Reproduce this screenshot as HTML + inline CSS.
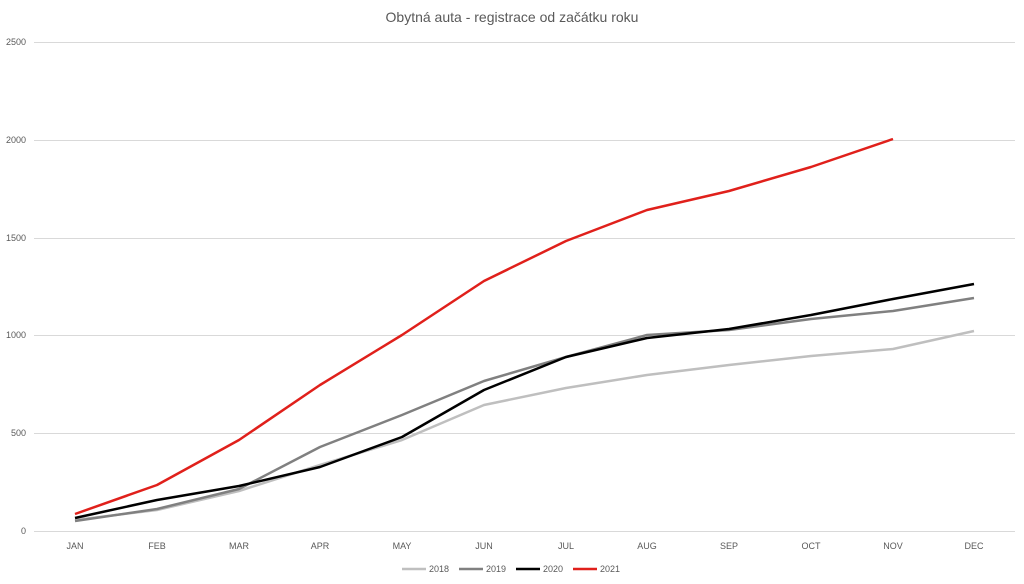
<!DOCTYPE html>
<html><head><meta charset="utf-8"><style>
body{margin:0;background:#fff;}
svg{display:block;font-family:"Liberation Sans",sans-serif;}
</style></head><body>
<svg width="1024" height="584" viewBox="0 0 1024 584">
<rect width="1024" height="584" fill="#fff"/>
<text x="512" y="22" text-anchor="middle" font-size="14" fill="#595959">Obytná auta - registrace od začátku roku</text>
<g stroke="#d9d9d9" stroke-width="1">
<line x1="34" x2="1015" y1="42.5" y2="42.5"/>
<line x1="34" x2="1015" y1="140.5" y2="140.5"/>
<line x1="34" x2="1015" y1="238.5" y2="238.5"/>
<line x1="34" x2="1015" y1="335.5" y2="335.5"/>
<line x1="34" x2="1015" y1="433.5" y2="433.5"/>
<line x1="34" x2="1015" y1="531.5" y2="531.5"/>
</g>
<g font-size="9" fill="#595959" text-anchor="end">
<text x="26" y="45">2500</text><text x="26" y="143">2000</text><text x="26" y="241">1500</text>
<text x="26" y="338">1000</text><text x="26" y="436">500</text><text x="26" y="534">0</text>
</g>
<g font-size="9" fill="#595959" text-anchor="middle">
<text x="75" y="549">JAN</text><text x="157" y="549">FEB</text><text x="239" y="549">MAR</text>
<text x="320" y="549">APR</text><text x="402" y="549">MAY</text><text x="484" y="549">JUN</text>
<text x="566" y="549">JUL</text><text x="647" y="549">AUG</text><text x="729" y="549">SEP</text>
<text x="811" y="549">OCT</text><text x="893" y="549">NOV</text><text x="974" y="549">DEC</text>
</g>
<g fill="none" stroke-width="2.5" stroke-linejoin="round">
<polyline stroke="#bfbfbf" points="75,520 157,510 239,491 320,465 402,440 484,405 566,388 647,375 729,365 811,356 893,349 974,331"/>
<polyline stroke="#808080" points="75,521 157,509 239,489 320,447 402,415 484,381 566,357 647,335 729,330 811,319 893,311 974,298"/>
<polyline stroke="#000" points="75,518 157,500 239,486 320,467 402,437 484,390 566,357 647,338 729,329 811,315 893,299 974,284"/>
<polyline stroke="#e0201b" points="75,514 157,485 239,440 320,385 402,335 484,281 566,241 647,210 729,191 811,167 893,139"/>
</g>
<g font-size="9" fill="#595959">
<line x1="402" x2="426" y1="569" y2="569" stroke="#bfbfbf" stroke-width="2.5"/><text x="429" y="572">2018</text>
<line x1="459" x2="483" y1="569" y2="569" stroke="#808080" stroke-width="2.5"/><text x="486" y="572">2019</text>
<line x1="516" x2="540" y1="569" y2="569" stroke="#000" stroke-width="2.5"/><text x="543" y="572">2020</text>
<line x1="573" x2="597" y1="569" y2="569" stroke="#e0201b" stroke-width="2.5"/><text x="600" y="572">2021</text>
</g>
</svg>
</body></html>
